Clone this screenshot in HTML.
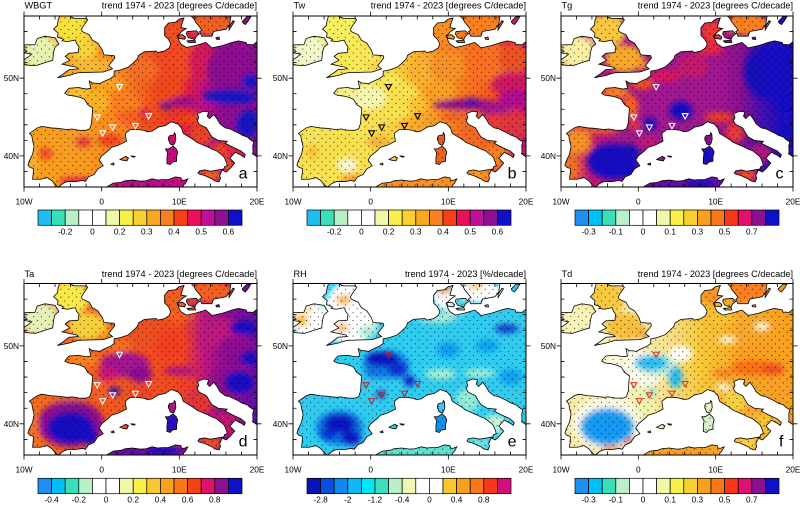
<!DOCTYPE html>
<html><head><meta charset="utf-8">
<style>
html,body{margin:0;padding:0;background:#fff;}
body{width:800px;height:504px;overflow:hidden;}
svg text{font-family:"Liberation Sans",Arial,sans-serif;fill:#000;}
.t{font-size:9.2px}
.l{font-size:8.3px}
.p{font-size:16px}
</style></head><body>
<svg width="800" height="504" viewBox="0 0 800 504" xmlns="http://www.w3.org/2000/svg">
<defs>
<path id="landp" d="M-5.35,-36.14 L-5.6,-36.0 L-6.0,-36.3 L-6.4,-36.8 L-7.0,-37.2 L-7.9,-37.0 L-8.9,-37.0 L-8.8,-37.9 L-8.8,-38.4 L-9.2,-38.5 L-9.5,-38.8 L-9.3,-39.4 L-8.9,-40.2 L-8.7,-41.2 L-8.9,-42.0 L-9.0,-42.6 L-9.3,-42.9 L-8.3,-43.6 L-7.7,-43.8 L-6.5,-43.6 L-5.7,-43.55 L-4.5,-43.4 L-3.8,-43.46 L-2.9,-43.3 L-2.0,-43.3 L-1.55,-43.48 L-1.3,-44.2 L-1.25,-45.0 L-1.15,-46.15 L-1.8,-46.6 L-2.2,-47.27 L-2.7,-47.5 L-3.5,-47.7 L-4.3,-47.8 L-4.75,-48.04 L-4.5,-48.4 L-4.2,-48.7 L-3.0,-48.8 L-2.0,-48.6 L-1.4,-48.7 L-1.6,-49.65 L-1.2,-49.4 L-0.2,-49.3 L0.1,-49.5 L1.08,-49.93 L1.6,-50.3 L1.6,-50.9 L1.85,-50.95 L2.4,-51.05 L3.4,-51.4 L4.0,-51.9 L4.6,-52.5 L4.75,-52.95 L5.5,-53.4 L7.0,-53.5 L7.2,-53.3 L8.1,-53.5 L8.7,-53.9 L8.9,-54.4 L8.6,-55.0 L8.1,-55.5 L8.1,-56.5 L8.6,-57.1 L9.5,-57.2 L10.0,-57.6 L10.6,-57.75 L10.4,-57.2 L10.2,-56.5 L10.9,-56.4 L10.3,-56.0 L9.8,-55.5 L9.9,-55.0 L10.0,-54.7 L10.2,-54.4 L10.9,-53.95 L12.1,-54.2 L13.4,-54.6 L14.2,-53.9 L15.6,-54.2 L16.8,-54.6 L17.6,-54.8 L18.6,-54.6 L18.7,-54.35 L19.5,-54.3 L20.0,-54.7 L20.6,-54.8 L20.6,-39.6 L20.0,-39.87 L19.4,-40.3 L19.49,-40.47 L19.45,-41.31 L19.6,-41.8 L19.1,-42.1 L18.77,-42.42 L18.1,-42.65 L17.5,-43.0 L16.44,-43.5 L15.9,-43.6 L15.23,-44.12 L14.9,-44.7 L14.44,-45.33 L14.2,-45.1 L13.9,-44.8 L13.6,-45.1 L13.77,-45.65 L13.1,-45.75 L12.33,-45.43 L12.5,-44.95 L12.3,-44.5 L12.57,-44.06 L13.5,-43.6 L13.9,-42.9 L14.2,-42.46 L15.0,-42.0 L16.18,-41.88 L15.9,-41.63 L16.87,-41.13 L17.95,-40.64 L18.5,-40.15 L18.36,-39.8 L18.0,-40.06 L17.2,-40.47 L16.5,-39.7 L17.13,-39.08 L16.6,-38.45 L16.05,-37.93 L15.65,-38.1 L15.83,-38.62 L16.16,-38.73 L16.07,-39.13 L15.79,-39.81 L15.52,-40.07 L14.75,-40.68 L14.25,-40.85 L13.55,-41.2 L12.25,-41.75 L11.8,-42.1 L10.5,-42.9 L10.3,-43.55 L9.82,-44.1 L8.93,-44.4 L8.2,-43.9 L7.27,-43.7 L6.5,-43.2 L5.93,-43.1 L5.37,-43.3 L4.6,-43.4 L3.7,-43.4 L3.05,-42.9 L3.1,-42.4 L3.2,-41.9 L2.17,-41.38 L1.25,-41.1 L0.87,-40.7 L0.0,-40.0 L-0.33,-39.47 L0.2,-38.73 L-0.48,-38.35 L-0.98,-37.6 L-1.7,-37.3 L-2.1,-36.72 L-2.45,-36.84 L-3.4,-36.7 L-4.4,-36.7 L-5.0,-36.45 Z
M-5.7,-50.05 L-4.2,-50.35 L-3.4,-50.6 L-3.0,-50.7 L-1.5,-50.75 L0.2,-50.8 L1.4,-51.2 L0.9,-51.6 L1.7,-52.6 L1.6,-52.9 L0.3,-53.0 L0.1,-53.6 L-0.5,-54.5 L-1.2,-54.9 L-1.6,-55.6 L-2.5,-56.0 L-2.6,-56.3 L-2.3,-56.8 L-1.8,-57.5 L-2.0,-57.7 L-3.5,-57.7 L-4.0,-57.9 L-3.7,-58.3 L-5.3,-58.3 L-5.6,-57.5 L-5.7,-56.8 L-6.2,-56.3 L-5.6,-55.8 L-5.7,-55.3 L-4.9,-55.0 L-5.1,-54.8 L-4.4,-54.7 L-3.4,-54.9 L-3.2,-54.4 L-2.9,-54.0 L-3.0,-53.7 L-3.0,-53.3 L-4.2,-53.2 L-4.7,-52.8 L-4.1,-52.3 L-5.1,-51.8 L-4.2,-51.6 L-3.2,-51.4 L-3.0,-51.2 L-4.2,-51.1 L-5.0,-50.5 Z
M-6.2,-53.3 L-6.0,-54.0 L-5.5,-54.4 L-6.0,-55.2 L-7.3,-55.4 L-8.3,-55.1 L-8.6,-54.3 L-9.8,-54.3 L-10.3,-54.0 L-9.6,-53.4 L-10.3,-53.3 L-9.0,-53.1 L-9.5,-52.7 L-10.3,-52.2 L-9.8,-51.7 L-8.5,-51.6 L-7.0,-52.1 L-6.3,-52.3 Z
M9.7,-55.5 L10.4,-55.6 L10.8,-55.3 L10.7,-55.0 L10.0,-55.1 Z
M10.9,-55.7 L11.0,-56.0 L12.2,-56.1 L12.6,-55.7 L12.2,-55.4 L12.0,-55.0 L11.2,-55.2 Z
M11.0,-54.8 L12.0,-54.9 L12.1,-54.6 L11.2,-54.6 Z
M11.5,-58.3 L11.5,-58.0 L11.9,-57.6 L12.1,-57.2 L12.6,-56.6 L12.9,-56.2 L12.6,-56.0 L12.9,-55.4 L14.2,-55.4 L14.4,-56.0 L15.5,-56.2 L16.0,-56.3 L16.5,-56.9 L16.6,-57.8 L16.8,-58.3 Z
M16.4,-56.2 L17.1,-57.3 L16.9,-57.4 L16.4,-56.6 Z
M18.1,-57.3 L18.7,-57.9 L19.2,-57.9 L18.9,-57.4 L18.5,-56.9 L18.2,-57.1 Z
M14.7,-55.2 L15.1,-55.3 L15.2,-55.0 L14.8,-55.0 Z
M8.6,-42.0 L8.6,-42.4 L8.75,-42.6 L9.3,-42.7 L9.35,-43.0 L9.5,-42.8 L9.55,-42.1 L9.4,-41.6 L9.2,-41.37 L8.8,-41.55 L8.7,-41.9 Z
M8.2,-40.9 L8.6,-40.9 L9.2,-41.25 L9.6,-40.9 L9.8,-40.5 L9.65,-39.9 L9.65,-39.3 L9.1,-39.2 L8.85,-38.9 L8.4,-39.0 L8.4,-39.7 L8.5,-40.4 Z
M12.4,-37.8 L12.6,-38.1 L13.3,-38.2 L14.0,-38.03 L15.3,-38.25 L15.6,-38.3 L15.2,-37.5 L15.3,-37.1 L15.1,-36.65 L14.5,-36.8 L14.3,-37.0 L13.2,-37.5 L12.6,-37.65 Z
M2.35,-39.55 L3.1,-39.95 L3.45,-39.75 L3.25,-39.35 L2.7,-39.45 Z
M3.8,-40.0 L4.3,-39.95 L4.2,-39.82 L3.9,-39.9 Z
M1.2,-38.95 L1.55,-39.1 L1.6,-38.85 L1.35,-38.85 Z
M0.3,-35.7 L0.8,-36.1 L1.5,-36.5 L2.5,-36.6 L3.0,-36.8 L4.0,-36.9 L5.0,-36.75 L5.7,-36.8 L6.5,-37.05 L7.2,-36.9 L7.8,-36.95 L8.6,-36.95 L9.5,-37.3 L10.2,-37.2 L10.3,-36.9 L10.6,-36.85 L11.1,-37.05 L10.8,-36.5 L10.5,-36.2 L10.6,-35.7 Z"/>
<clipPath id="lc"><use href="#landp"/></clipPath>
<pattern id="dots" patternUnits="userSpaceOnUse" width="1" height="1"><circle cx="0.25" cy="0.25" r="0.07" fill="#000"/><circle cx="0.75" cy="0.75" r="0.07" fill="#000"/></pattern>
<filter id="bl" filterUnits="userSpaceOnUse" x="-14" y="-62" width="38" height="30"><feGaussianBlur stdDeviation="0.38"/></filter>
<linearGradient id="ga" gradientUnits="userSpaceOnUse" x1="-10" y1="0" x2="20" y2="0">
<stop offset="0" stop-color="#f8a020"/><stop offset="0.27" stop-color="#f89a20"/><stop offset="0.43" stop-color="#f88020"/><stop offset="0.57" stop-color="#f04c1e"/><stop offset="0.70" stop-color="#e02040"/><stop offset="0.78" stop-color="#b8108a"/><stop offset="0.87" stop-color="#8c1090"/><stop offset="1" stop-color="#8c1090"/>
</linearGradient>
<linearGradient id="gb" gradientUnits="userSpaceOnUse" x1="-10" y1="0" x2="20" y2="0">
<stop offset="0" stop-color="#f8e050"/><stop offset="0.27" stop-color="#f8e858"/><stop offset="0.43" stop-color="#f8d040"/><stop offset="0.53" stop-color="#f8b030"/><stop offset="0.63" stop-color="#f89020"/><stop offset="0.77" stop-color="#f87020"/><stop offset="0.87" stop-color="#f05020"/><stop offset="0.95" stop-color="#d01860"/><stop offset="1" stop-color="#c01880"/>
</linearGradient>
<linearGradient id="gc" gradientUnits="userSpaceOnUse" x1="-10" y1="0" x2="20" y2="0">
<stop offset="0" stop-color="#f89020"/><stop offset="0.13" stop-color="#c01878"/><stop offset="0.27" stop-color="#a01890"/><stop offset="0.67" stop-color="#a01890"/><stop offset="0.77" stop-color="#8c1090"/><stop offset="0.87" stop-color="#4010b0"/><stop offset="1" stop-color="#1810c0"/>
</linearGradient>
<linearGradient id="gd" gradientUnits="userSpaceOnUse" x1="-10" y1="0" x2="20" y2="0">
<stop offset="0" stop-color="#f07020"/><stop offset="0.27" stop-color="#f06020"/><stop offset="0.5" stop-color="#f05020"/><stop offset="0.67" stop-color="#f04a20"/><stop offset="0.77" stop-color="#c01880"/><stop offset="0.87" stop-color="#8c1090"/><stop offset="1" stop-color="#6010a8"/>
</linearGradient>
<linearGradient id="gf" gradientUnits="userSpaceOnUse" x1="-10" y1="0" x2="20" y2="0">
<stop offset="0" stop-color="#f8e8a0"/><stop offset="0.27" stop-color="#f8f0c0"/><stop offset="0.47" stop-color="#f8e088"/><stop offset="0.6" stop-color="#f8c838"/><stop offset="0.77" stop-color="#f8a828"/><stop offset="1" stop-color="#f8a020"/>
</linearGradient>
<g id="tri" fill="none" stroke-width="0.14">
<path d="M1.92,-49.18 L2.68,-49.18 L2.3,-48.49 Z"/>
<path d="M-0.96,-45.28 L-0.2,-45.28 L-0.58,-44.59 Z"/>
<path d="M5.67,-45.43 L6.43,-45.43 L6.05,-44.74 Z"/>
<path d="M1.04,-43.98 L1.8,-43.98 L1.42,-43.29 Z"/>
<path d="M-0.25,-43.23 L0.51,-43.23 L0.13,-42.54 Z"/>
<path d="M3.97,-44.18 L4.73,-44.18 L4.35,-43.49 Z"/>
</g>
<g id="fr" stroke="#000" fill="none">
<rect x="0" y="0" width="233" height="171" stroke-width="1"/>
<path stroke-width="0.8" d="M0,171V175.5M77.67,171V175.5M155.33,171V175.5M233,171V175.5M0,0V-4.5M77.67,0V-4.5M155.33,0V-4.5M233,0V-4.5
M15.53,171v-3.5M31.07,171v-3.5M46.6,171v-3.5M62.13,171v-3.5M93.2,171v-3.5M108.73,171v-3.5M124.27,171v-3.5M139.8,171v-3.5M170.87,171v-3.5M186.4,171v-3.5M201.93,171v-3.5M217.47,171v-3.5
M15.53,0v3.5M31.07,0v3.5M46.6,0v3.5M62.13,0v3.5M93.2,0v3.5M108.73,0v3.5M124.27,0v3.5M139.8,0v3.5M170.87,0v3.5M186.4,0v3.5M201.93,0v3.5M217.47,0v3.5
M0,62.18H-4.5M0,139.91H-4.5M233,62.18H237.5M233,139.91H237.5
M0,15.55h3.5M0,31.09h3.5M0,46.64h3.5M0,77.73h3.5M0,93.27h3.5M0,108.82h3.5M0,124.36h3.5M0,155.45h3.5
M233,15.55h-3.5M233,31.09h-3.5M233,46.64h-3.5M233,77.73h-3.5M233,93.27h-3.5M233,108.82h-3.5M233,124.36h-3.5M233,155.45h-3.5"/>
</g>
</defs>

<!-- ===== Panel a: WBGT ===== -->
<svg x="24" y="16" width="233" height="171" viewBox="-10 -58 30 22" preserveAspectRatio="none" overflow="hidden">
<g clip-path="url(#lc)">
<rect x="-11" y="-59" width="32" height="24" fill="url(#ga)"/>
<g filter="url(#bl)">
<ellipse cx="-8" cy="-53.4" rx="2.4" ry="2.2" fill="#e8f2b0"/>
<ellipse cx="-3.8" cy="-56.2" rx="2.5" ry="2.2" fill="#f8e040"/>
<ellipse cx="-2.5" cy="-53.8" rx="2" ry="1.3" fill="#f8d438"/>
<ellipse cx="-1.5" cy="-51.6" rx="3" ry="1" fill="#f8b830"/>
<ellipse cx="-2.8" cy="-48.1" rx="2" ry="0.8" fill="#f8c030"/>
<ellipse cx="-0.6" cy="-47" rx="1.6" ry="1.6" fill="#f8b028"/>
<ellipse cx="1" cy="-49.3" rx="1.8" ry="0.9" fill="#f8a422"/>
<ellipse cx="3" cy="-46.5" rx="2" ry="1.5" fill="#f88020"/>
<ellipse cx="4" cy="-45" rx="2" ry="1" fill="#f86020"/>
<ellipse cx="6" cy="-44.3" rx="1.5" ry="0.8" fill="#f04818"/>
<ellipse cx="5.5" cy="-45.6" rx="0.7" ry="0.6" fill="#e02050"/>
<ellipse cx="5.5" cy="-51" rx="1.8" ry="1.5" fill="#f86a20"/>
<ellipse cx="9.5" cy="-51.5" rx="2.3" ry="2.3" fill="#f04a20"/>
<ellipse cx="8.5" cy="-48.5" rx="2" ry="1.5" fill="#f04a1a"/>
<ellipse cx="10.5" cy="-54" rx="2.5" ry="0.8" fill="#f04a20"/>
<ellipse cx="13" cy="-52" rx="1.8" ry="2.5" fill="#d81858"/>
<ellipse cx="17" cy="-51" rx="3.5" ry="3.5" fill="#8c1090"/>
<ellipse cx="16" cy="-45.5" rx="2.5" ry="1.2" fill="#8c1090"/>
<ellipse cx="13.5" cy="-46.3" rx="1.5" ry="0.7" fill="#b8108a"/>
<ellipse cx="10.5" cy="-47" rx="1.8" ry="0.7" fill="#9a1088"/>
<ellipse cx="16.5" cy="-47.6" rx="3.5" ry="1" fill="#1818c0"/>
<ellipse cx="19.2" cy="-49.6" rx="1.2" ry="1" fill="#1818c0"/>
<ellipse cx="18.8" cy="-44.2" rx="1.5" ry="1.8" fill="#1818c0"/>
<ellipse cx="8.3" cy="-46.5" rx="0.8" ry="0.4" fill="#3010b0"/>
<ellipse cx="11.5" cy="-44.8" rx="2" ry="0.7" fill="#f04418"/>
<ellipse cx="12.8" cy="-42.7" rx="1.5" ry="1.5" fill="#f04020"/>
<ellipse cx="15.5" cy="-40.6" rx="1.6" ry="1.2" fill="#f04028"/>
<ellipse cx="17.2" cy="-40.6" rx="1.3" ry="0.9" fill="#e02848"/>
<ellipse cx="16.2" cy="-38.7" rx="0.9" ry="0.9" fill="#f05020"/>
<ellipse cx="14" cy="-37.5" rx="1.5" ry="0.8" fill="#f06020"/>
<ellipse cx="9.1" cy="-42.2" rx="0.8" ry="0.9" fill="#c81070"/>
<ellipse cx="9" cy="-40" rx="1.2" ry="1.5" fill="#c01080"/>
<ellipse cx="-7.3" cy="-40.3" rx="1" ry="0.8" fill="#f05028"/>
<ellipse cx="-2.3" cy="-41.8" rx="1" ry="0.6" fill="#e83040"/>
<ellipse cx="1" cy="-42" rx="1.5" ry="0.8" fill="#f04020"/>
<ellipse cx="-3" cy="-36.8" rx="2.5" ry="0.5" fill="#e02848"/>
<ellipse cx="-8.8" cy="-39.5" rx="0.6" ry="2" fill="#f8b030"/>
<ellipse cx="9.5" cy="-56" rx="1.5" ry="1.5" fill="#f05020"/>
<ellipse cx="14" cy="-57" rx="3" ry="1.5" fill="#f06020"/>
<ellipse cx="6" cy="-36.5" rx="6" ry="1" fill="#b8108a"/>
</g>
<rect x="-11" y="-59" width="32" height="24" fill="url(#dots)"/>
</g>
<use href="#landp" fill="none" stroke="#000" stroke-width="0.1"/>
<use href="#tri" stroke="#ffffff"/>
</svg>

<!-- ===== Panel b: Tw ===== -->
<svg x="293" y="16" width="233" height="171" viewBox="-10 -58 30 22" preserveAspectRatio="none" overflow="hidden">
<g clip-path="url(#lc)">
<rect x="-11" y="-59" width="32" height="24" fill="url(#gb)"/>
<g filter="url(#bl)">
<ellipse cx="-8" cy="-53.4" rx="2.4" ry="2.2" fill="#f0f8c8"/>
<ellipse cx="-4" cy="-56.2" rx="2.5" ry="2.2" fill="#f8f060"/>
<ellipse cx="-1.8" cy="-52.5" rx="2.5" ry="1.8" fill="#f8e858"/>
<ellipse cx="0.5" cy="-51.6" rx="1" ry="0.5" fill="#f8d040"/>
<ellipse cx="2" cy="-47.2" rx="4.5" ry="2.8" fill="#f8e050"/>
<ellipse cx="-0.5" cy="-47.5" rx="2.5" ry="1.5" fill="#f4f8b0"/>
<ellipse cx="-3" cy="-48.2" rx="1.8" ry="0.7" fill="#f8f090"/>
<ellipse cx="2.5" cy="-49.8" rx="1.5" ry="0.8" fill="#f8e858"/>
<ellipse cx="6" cy="-46.5" rx="1.2" ry="1.2" fill="#f8c030"/>
<ellipse cx="5.5" cy="-44.2" rx="1.5" ry="0.7" fill="#f8a828"/>
<ellipse cx="-4" cy="-40" rx="4.5" ry="3" fill="#f8e050"/>
<ellipse cx="-3" cy="-38.8" rx="1.2" ry="0.8" fill="#f8f8d8"/>
<ellipse cx="-7.5" cy="-40.5" rx="0.8" ry="0.8" fill="#f8c030"/>
<ellipse cx="-2" cy="-37" rx="2" ry="0.5" fill="#f89020"/>
<ellipse cx="1" cy="-41.8" rx="1.5" ry="0.8" fill="#f8b030"/>
<ellipse cx="7" cy="-51" rx="1.8" ry="1.8" fill="#f8b030"/>
<ellipse cx="10" cy="-51.5" rx="2.5" ry="2" fill="#f89020"/>
<ellipse cx="10" cy="-54" rx="2" ry="0.7" fill="#f88020"/>
<ellipse cx="9" cy="-48.5" rx="2" ry="1.2" fill="#f8a020"/>
<ellipse cx="15" cy="-52" rx="3" ry="2.5" fill="#f87020"/>
<ellipse cx="18.5" cy="-52.5" rx="2" ry="2" fill="#f05020"/>
<ellipse cx="18" cy="-49.3" rx="2.5" ry="1.5" fill="#d01860"/>
<ellipse cx="18.5" cy="-47.3" rx="2" ry="1.3" fill="#b01090"/>
<ellipse cx="12.5" cy="-46.6" rx="4.5" ry="0.7" fill="#8c1090"/>
<ellipse cx="13" cy="-47" rx="1" ry="0.5" fill="#5010b0"/>
<ellipse cx="16" cy="-46" rx="2" ry="1" fill="#a01890"/>
<ellipse cx="18.5" cy="-44" rx="2" ry="2" fill="#e03040"/>
<ellipse cx="16" cy="-44.5" rx="1.5" ry="1" fill="#e83838"/>
<ellipse cx="11" cy="-45" rx="2" ry="0.6" fill="#f06020"/>
<ellipse cx="12.8" cy="-42.8" rx="1.5" ry="1.5" fill="#f06828"/>
<ellipse cx="16" cy="-40" rx="2" ry="1.5" fill="#f88020"/>
<ellipse cx="14" cy="-37.5" rx="1.5" ry="0.8" fill="#f89828"/>
<ellipse cx="9.1" cy="-42.2" rx="0.8" ry="0.9" fill="#f05020"/>
<ellipse cx="9" cy="-40" rx="1.2" ry="1.5" fill="#f06020"/>
<ellipse cx="9.5" cy="-56" rx="1.5" ry="1.5" fill="#f89020"/>
<ellipse cx="14" cy="-57" rx="3" ry="1.5" fill="#f88020"/>
<ellipse cx="6" cy="-36.5" rx="6" ry="1" fill="#f89028"/>
</g>
<rect x="-11" y="-59" width="32" height="24" fill="url(#dots)"/>
</g>
<use href="#landp" fill="none" stroke="#000" stroke-width="0.1"/>
<use href="#tri" stroke="#000000"/>
</svg>

<!-- ===== Panel c: Tg ===== -->
<svg x="561" y="16" width="232" height="171" viewBox="-10 -58 30 22" preserveAspectRatio="none" overflow="hidden">
<g clip-path="url(#lc)">
<rect x="-11" y="-59" width="32" height="24" fill="url(#gc)"/>
<g filter="url(#bl)">
<ellipse cx="-8" cy="-53.4" rx="2.4" ry="2.2" fill="#f8f0a0"/>
<ellipse cx="-4" cy="-56.2" rx="2.5" ry="2.2" fill="#f8c840"/>
<ellipse cx="-1.8" cy="-52.5" rx="2.5" ry="1.8" fill="#f8a828"/>
<ellipse cx="0.5" cy="-51.7" rx="1" ry="0.6" fill="#f89020"/>
<ellipse cx="-3" cy="-48.2" rx="1.8" ry="0.8" fill="#f88020"/>
<ellipse cx="-1" cy="-46.3" rx="1" ry="1.6" fill="#f86020"/>
<ellipse cx="0.5" cy="-49.3" rx="1.5" ry="0.8" fill="#f05020"/>
<ellipse cx="3.5" cy="-50.3" rx="2" ry="0.8" fill="#d81860"/>
<ellipse cx="-0.5" cy="-44" rx="1" ry="0.6" fill="#e83040"/>
<ellipse cx="5.5" cy="-45.8" rx="1.5" ry="1.2" fill="#1810c0"/>
<ellipse cx="1.4" cy="-44.1" rx="1" ry="0.8" fill="#1810c0"/>
<ellipse cx="-7.8" cy="-41.8" rx="1.8" ry="1.6" fill="#f89020"/>
<ellipse cx="-8.5" cy="-38.5" rx="0.7" ry="1.5" fill="#f07020"/>
<ellipse cx="-5" cy="-43.3" rx="2.5" ry="0.4" fill="#f07020"/>
<ellipse cx="-3.3" cy="-39.3" rx="3.3" ry="2.3" fill="#1810c0"/>
<ellipse cx="-1" cy="-40.5" rx="1.2" ry="1" fill="#1810c0"/>
<ellipse cx="-1" cy="-38" rx="1.5" ry="1" fill="#1810c0"/>
<ellipse cx="1.2" cy="-41.8" rx="1.3" ry="0.7" fill="#c01878"/>
<ellipse cx="7" cy="-51.5" rx="2" ry="1.5" fill="#c81870"/>
<ellipse cx="9" cy="-53.8" rx="2" ry="0.8" fill="#e82840"/>
<ellipse cx="9.5" cy="-56" rx="1.5" ry="1.5" fill="#e83830"/>
<ellipse cx="14" cy="-57" rx="3" ry="1.5" fill="#f88020"/>
<ellipse cx="17.3" cy="-50.8" rx="3.6" ry="3.6" fill="#1810c0"/>
<ellipse cx="19" cy="-46.5" rx="1.5" ry="1.5" fill="#1810c0"/>
<ellipse cx="10.5" cy="-45" rx="2" ry="0.6" fill="#f04020"/>
<ellipse cx="12.5" cy="-43" rx="1.2" ry="1.3" fill="#e83838"/>
<ellipse cx="15.8" cy="-40.3" rx="1.5" ry="1.3" fill="#b01880"/>
<ellipse cx="14" cy="-37.5" rx="1.5" ry="0.8" fill="#f04828"/>
<ellipse cx="19" cy="-43" rx="1.2" ry="1.5" fill="#1810c0"/>
<ellipse cx="9.1" cy="-42.2" rx="0.8" ry="0.9" fill="#8c1090"/>
<ellipse cx="9" cy="-40" rx="1.2" ry="1.5" fill="#1810c0"/>
<ellipse cx="6" cy="-36.5" rx="6" ry="1" fill="#6010a8"/>
<ellipse cx="8" cy="-36.4" rx="2" ry="0.6" fill="#1810c0"/>
</g>
<rect x="-11" y="-59" width="32" height="24" fill="url(#dots)"/>
</g>
<use href="#landp" fill="none" stroke="#000" stroke-width="0.1"/>
<use href="#tri" stroke="#ffffff"/>
</svg>

<!-- ===== Panel d: Ta ===== -->
<svg x="24" y="283.5" width="233" height="171.5" viewBox="-10 -58 30 22" preserveAspectRatio="none" overflow="hidden">
<g clip-path="url(#lc)">
<rect x="-11" y="-59" width="32" height="24" fill="url(#gd)"/>
<g filter="url(#bl)">
<ellipse cx="-8" cy="-53.4" rx="2.4" ry="2.2" fill="#e4f2b8"/>
<ellipse cx="-4" cy="-56.2" rx="2.5" ry="2.2" fill="#f8e848"/>
<ellipse cx="-1.8" cy="-52.5" rx="2.5" ry="1.8" fill="#f8d038"/>
<ellipse cx="0.5" cy="-51.6" rx="1" ry="0.6" fill="#f8a828"/>
<ellipse cx="-2.5" cy="-48.2" rx="2" ry="1" fill="#f88020"/>
<ellipse cx="2" cy="-50" rx="2" ry="0.8" fill="#f87020"/>
<ellipse cx="3" cy="-47.6" rx="3.2" ry="1.6" fill="#a01890"/>
<ellipse cx="0.8" cy="-46.4" rx="1.3" ry="0.9" fill="#c81878"/>
<ellipse cx="5" cy="-46.3" rx="1.5" ry="1" fill="#8c1090"/>
<ellipse cx="1.6" cy="-44.2" rx="0.8" ry="0.5" fill="#1810c0"/>
<ellipse cx="5" cy="-44.2" rx="1.5" ry="0.6" fill="#f04020"/>
<ellipse cx="-0.5" cy="-44.5" rx="1" ry="1" fill="#f06020"/>
<ellipse cx="-4" cy="-40" rx="4.3" ry="3" fill="#8c1090"/>
<ellipse cx="-4" cy="-39.5" rx="3" ry="2.1" fill="#1810c0"/>
<ellipse cx="-1.5" cy="-38.3" rx="1.2" ry="1" fill="#1810c0"/>
<ellipse cx="-8.7" cy="-39.5" rx="0.6" ry="2" fill="#f87020"/>
<ellipse cx="-5" cy="-43.3" rx="2.5" ry="0.4" fill="#f06020"/>
<ellipse cx="10" cy="-54" rx="2" ry="0.8" fill="#f86020"/>
<ellipse cx="9" cy="-50" rx="2" ry="2" fill="#f04020"/>
<ellipse cx="15.5" cy="-51.5" rx="3" ry="2" fill="#c01880"/>
<ellipse cx="18.2" cy="-52.3" rx="1.8" ry="0.9" fill="#1810c0"/>
<ellipse cx="17.5" cy="-50" rx="2.5" ry="1.2" fill="#8c1090"/>
<ellipse cx="17" cy="-45.5" rx="3" ry="2.2" fill="#8c1090"/>
<ellipse cx="17.8" cy="-45.3" rx="2" ry="1.5" fill="#1810c0"/>
<ellipse cx="19" cy="-48.5" rx="1" ry="1" fill="#1810c0"/>
<ellipse cx="10" cy="-46.8" rx="2" ry="0.6" fill="#b01880"/>
<ellipse cx="11" cy="-45" rx="2" ry="0.6" fill="#f04020"/>
<ellipse cx="12.8" cy="-42.8" rx="1.5" ry="1.5" fill="#e83030"/>
<ellipse cx="16" cy="-40" rx="2" ry="1.5" fill="#c01870"/>
<ellipse cx="14" cy="-37.5" rx="1.5" ry="0.8" fill="#f05020"/>
<ellipse cx="9.1" cy="-42.2" rx="0.8" ry="0.9" fill="#a01890"/>
<ellipse cx="9" cy="-40" rx="1.2" ry="1.5" fill="#2810c0"/>
<ellipse cx="9.5" cy="-56" rx="1.5" ry="1.5" fill="#f06020"/>
<ellipse cx="14" cy="-57" rx="3" ry="1.5" fill="#f06020"/>
<ellipse cx="6" cy="-36.5" rx="6" ry="1" fill="#6010a8"/>
<ellipse cx="8" cy="-36.5" rx="2" ry="0.6" fill="#1810c0"/>
</g>
<rect x="-11" y="-59" width="32" height="24" fill="url(#dots)"/>
</g>
<use href="#landp" fill="none" stroke="#000" stroke-width="0.1"/>
<use href="#tri" stroke="#ffffff"/>
</svg>

<!-- ===== Panel e: RH ===== -->
<svg x="293" y="283.5" width="233" height="171.5" viewBox="-10 -58 30 22" preserveAspectRatio="none" overflow="hidden">
<g clip-path="url(#lc)">
<rect x="-11" y="-59" width="32" height="24" fill="#30ccf0"/>
<g filter="url(#bl)">
<ellipse cx="-8" cy="-53.4" rx="2.6" ry="2.4" fill="#ffffff"/>
<ellipse cx="-9" cy="-53.3" rx="1" ry="0.8" fill="#f8c030"/>
<ellipse cx="-8" cy="-54.7" rx="0.6" ry="0.4" fill="#f8d040"/>
<ellipse cx="-2.5" cy="-54.2" rx="3.5" ry="4.2" fill="#ffffff"/>
<ellipse cx="-3.5" cy="-55.9" rx="1" ry="0.6" fill="#f8b030"/>
<ellipse cx="-3.7" cy="-52.3" rx="0.8" ry="0.5" fill="#f8a830"/>
<ellipse cx="-0.3" cy="-51.9" rx="1.3" ry="0.7" fill="#a8ecd8"/>
<ellipse cx="9.5" cy="-56.2" rx="1.5" ry="1.5" fill="#ffffff"/>
<ellipse cx="9.4" cy="-57.2" rx="1" ry="0.5" fill="#f89020"/>
<ellipse cx="14" cy="-57" rx="3" ry="1.5" fill="#ffffff"/>
<ellipse cx="13.5" cy="-57.7" rx="1" ry="0.4" fill="#f8c030"/>
<ellipse cx="8.5" cy="-53.6" rx="2.5" ry="0.6" fill="#b0f0d8"/>
<ellipse cx="11" cy="-54.5" rx="1.5" ry="0.5" fill="#b0f0d8"/>
<ellipse cx="2" cy="-47.6" rx="3" ry="1.8" fill="#1080e8"/>
<ellipse cx="1.5" cy="-48.3" rx="2.2" ry="1" fill="#0818c0"/>
<ellipse cx="3.5" cy="-47" rx="1.3" ry="1" fill="#0830d0"/>
<ellipse cx="0.5" cy="-46.5" rx="1.2" ry="0.6" fill="#1070e0"/>
<ellipse cx="5" cy="-45.5" rx="0.7" ry="0.7" fill="#0818c0"/>
<ellipse cx="1.3" cy="-43.8" rx="0.6" ry="0.4" fill="#0818c0"/>
<ellipse cx="-4" cy="-39.5" rx="3" ry="2.2" fill="#1070e0"/>
<ellipse cx="-4" cy="-40" rx="2" ry="1.2" fill="#0818c0"/>
<ellipse cx="-2.5" cy="-38.2" rx="1.3" ry="0.9" fill="#0818c0"/>
<ellipse cx="-5.5" cy="-38.6" rx="1" ry="0.6" fill="#0030d0"/>
<ellipse cx="17.5" cy="-52.2" rx="1.5" ry="0.6" fill="#0840d0"/>
<ellipse cx="15" cy="-50" rx="1.5" ry="0.8" fill="#10a0f0"/>
<ellipse cx="10" cy="-49.5" rx="1.5" ry="1" fill="#10a0f0"/>
<ellipse cx="18" cy="-46" rx="1.5" ry="1" fill="#10a0f0"/>
<ellipse cx="9" cy="-46.4" rx="2" ry="0.6" fill="#b0f0d0"/>
<ellipse cx="14" cy="-46.5" rx="2" ry="0.5" fill="#b0f0d0"/>
<ellipse cx="12.5" cy="-43" rx="1.5" ry="1.6" fill="#90ead8"/>
<ellipse cx="16" cy="-40" rx="1.5" ry="1.2" fill="#c8f4d8"/>
<ellipse cx="14" cy="-37.5" rx="1.5" ry="0.8" fill="#70e0e0"/>
<ellipse cx="9" cy="-40" rx="1.2" ry="1.5" fill="#1090f0"/>
<ellipse cx="9.1" cy="-42.2" rx="0.8" ry="0.9" fill="#40c8f0"/>
<ellipse cx="6" cy="-36.5" rx="6" ry="1" fill="#60e0d0"/>
</g>
<rect x="-11" y="-59" width="32" height="24" fill="url(#dots)"/>
</g>
<use href="#landp" fill="none" stroke="#000" stroke-width="0.1"/>
<use href="#tri" stroke="#b02838"/>
</svg>

<!-- ===== Panel f: Td ===== -->
<svg x="561" y="283.5" width="232" height="171.5" viewBox="-10 -58 30 22" preserveAspectRatio="none" overflow="hidden">
<g clip-path="url(#lc)">
<rect x="-11" y="-59" width="32" height="24" fill="url(#gf)"/>
<g filter="url(#bl)">
<ellipse cx="-8" cy="-53.4" rx="2.4" ry="2.2" fill="#f8f4b8"/>
<ellipse cx="-4" cy="-56.2" rx="2.5" ry="2.2" fill="#f8c840"/>
<ellipse cx="-1.8" cy="-52.5" rx="2.5" ry="1.8" fill="#f8c038"/>
<ellipse cx="0.5" cy="-51.6" rx="1" ry="0.6" fill="#f8a830"/>
<ellipse cx="0" cy="-47" rx="3.5" ry="2.5" fill="#fbfbe8"/>
<ellipse cx="-3" cy="-48.2" rx="2" ry="0.7" fill="#fafae0"/>
<ellipse cx="2.5" cy="-47.5" rx="2.5" ry="1.5" fill="#c8f0d0"/>
<ellipse cx="1.7" cy="-47.8" rx="2.2" ry="1" fill="#28bcf0"/>
<ellipse cx="4.8" cy="-46" rx="0.9" ry="1.4" fill="#28bcf0"/>
<ellipse cx="1.5" cy="-44.1" rx="0.8" ry="0.5" fill="#80e0d0"/>
<ellipse cx="5.5" cy="-49" rx="1.5" ry="1" fill="#ffffff"/>
<ellipse cx="0" cy="-44.2" rx="1.2" ry="0.8" fill="#f0f4b0"/>
<ellipse cx="-4" cy="-40" rx="4.6" ry="3.3" fill="#fafae8"/>
<ellipse cx="-4" cy="-39.6" rx="3.5" ry="2.4" fill="#20a4f0"/>
<ellipse cx="-4" cy="-39.6" rx="2.4" ry="1.6" fill="#1898f0"/>
<ellipse cx="-1" cy="-37.6" rx="0.8" ry="0.6" fill="#f88020"/>
<ellipse cx="-3.5" cy="-36.8" rx="1.5" ry="0.4" fill="#f8a030"/>
<ellipse cx="1" cy="-42" rx="1.5" ry="0.8" fill="#f0f4b0"/>
<ellipse cx="10" cy="-53.5" rx="2.5" ry="1" fill="#f8c030"/>
<ellipse cx="11.5" cy="-50.8" rx="1.2" ry="0.4" fill="#ffffff"/>
<ellipse cx="16" cy="-52.5" rx="1" ry="0.5" fill="#ffffff"/>
<ellipse cx="16" cy="-48" rx="4" ry="2.5" fill="#f8a020"/>
<ellipse cx="15" cy="-47.2" rx="3" ry="1" fill="#f87018"/>
<ellipse cx="17.5" cy="-47" rx="1.5" ry="0.8" fill="#f05020"/>
<ellipse cx="11" cy="-46.5" rx="1.5" ry="0.5" fill="#f88020"/>
<ellipse cx="12.5" cy="-43" rx="1.5" ry="1.5" fill="#f8d040"/>
<ellipse cx="11" cy="-44.7" rx="1" ry="0.4" fill="#ffffff"/>
<ellipse cx="16" cy="-40" rx="2" ry="1.5" fill="#f8c030"/>
<ellipse cx="14" cy="-37.6" rx="1.5" ry="0.8" fill="#f8d040"/>
<ellipse cx="18" cy="-44" rx="2" ry="2" fill="#f8a028"/>
<ellipse cx="9" cy="-40" rx="1.2" ry="1.5" fill="#d8f0d0"/>
<ellipse cx="9.1" cy="-42.2" rx="0.8" ry="0.9" fill="#e8f4d0"/>
<ellipse cx="9.5" cy="-56.5" rx="1.5" ry="1.2" fill="#f89020"/>
<ellipse cx="14" cy="-57" rx="3" ry="1.5" fill="#f88020"/>
<ellipse cx="6" cy="-36.5" rx="6" ry="1" fill="#f8a028"/>
</g>
<rect x="-11" y="-59" width="32" height="24" fill="url(#dots)"/>
</g>
<use href="#landp" fill="none" stroke="#000" stroke-width="0.1"/>
<use href="#tri" stroke="#e03820"/>
</svg>

<!-- frames & ticks -->
<use href="#fr" transform="translate(24,16)"/>
<use href="#fr" transform="translate(293,16)"/>
<use href="#fr" transform="translate(561,16) scale(0.9957,1)"/>
<use href="#fr" transform="translate(24,283.5) scale(1,1.003)"/>
<use href="#fr" transform="translate(293,283.5) scale(1,1.003)"/>
<use href="#fr" transform="translate(561,283.5) scale(0.9957,1.003)"/>

<!-- titles -->
<text class="t" x="24.5" y="8.6">WBGT</text>
<text class="t" x="257" y="8.6" text-anchor="end">trend 1974 - 2023 [degrees C/decade]</text>
<text class="t" x="293.5" y="8.6">Tw</text>
<text class="t" x="526" y="8.6" text-anchor="end">trend 1974 - 2023 [degrees C/decade]</text>
<text class="t" x="561.5" y="8.6">Tg</text>
<text class="t" x="793" y="8.6" text-anchor="end">trend 1974 - 2023 [degrees C/decade]</text>
<text class="t" x="24.5" y="276.8">Ta</text>
<text class="t" x="257" y="276.8" text-anchor="end">trend 1974 - 2023 [degrees C/decade]</text>
<text class="t" x="293.5" y="276.8">RH</text>
<text class="t" x="526" y="276.8" text-anchor="end">trend 1974 - 2023 [%/decade]</text>
<text class="t" x="561.5" y="276.8">Td</text>
<text class="t" x="793" y="276.8" text-anchor="end">trend 1974 - 2023 [degrees C/decade]</text>

<!-- panel letters -->
<text class="p" x="247.5" y="178.3" text-anchor="end">a</text>
<text class="p" x="516.5" y="178.3" text-anchor="end">b</text>
<text class="p" x="783.5" y="178.3" text-anchor="end">c</text>
<text class="p" x="247.5" y="446.5" text-anchor="end">d</text>
<text class="p" x="516.5" y="446.5" text-anchor="end">e</text>
<text class="p" x="783.5" y="446.5" text-anchor="end">f</text>

<!-- lon labels -->
<g class="l" text-anchor="middle">
<text x="24" y="204.5">10W</text><text x="101.7" y="204.5">0</text><text x="179.3" y="204.5">10E</text><text x="257" y="204.5">20E</text>
<text x="293" y="204.5">10W</text><text x="370.7" y="204.5">0</text><text x="448.3" y="204.5">10E</text><text x="526" y="204.5">20E</text>
<text x="561" y="204.5">10W</text><text x="638.3" y="204.5">0</text><text x="715.7" y="204.5">10E</text><text x="793" y="204.5">20E</text>
<text x="24" y="472.5">10W</text><text x="101.7" y="472.5">0</text><text x="179.3" y="472.5">10E</text><text x="257" y="472.5">20E</text>
<text x="293" y="472.5">10W</text><text x="370.7" y="472.5">0</text><text x="448.3" y="472.5">10E</text><text x="526" y="472.5">20E</text>
<text x="561" y="472.5">10W</text><text x="638.3" y="472.5">0</text><text x="715.7" y="472.5">10E</text><text x="793" y="472.5">20E</text>
</g>
<!-- lat labels -->
<g class="l" text-anchor="end">
<text x="19" y="81.2">50N</text><text x="19" y="158.9">40N</text>
<text x="288" y="81.2">50N</text><text x="288" y="158.9">40N</text>
<text x="556" y="81.2">50N</text><text x="556" y="158.9">40N</text>
<text x="19" y="348.9">50N</text><text x="19" y="426.8">40N</text>
<text x="288" y="348.9">50N</text><text x="288" y="426.8">40N</text>
<text x="556" y="348.9">50N</text><text x="556" y="426.8">40N</text>
</g>

<!-- colorbars -->
<g stroke="#000" stroke-width="0.7">
<g transform="translate(38,210)">
<rect x="0" width="13.6" height="15.3" fill="#1ebff0"/><rect x="13.6" width="13.6" height="15.3" fill="#38e0b8"/><rect x="27.2" width="13.6" height="15.3" fill="#b8f0c8"/><rect x="40.8" width="13.6" height="15.3" fill="#ffffff"/><rect x="54.4" width="13.6" height="15.3" fill="#ffffff"/><rect x="68" width="13.6" height="15.3" fill="#f0f8a8"/><rect x="81.6" width="13.6" height="15.3" fill="#f8f048"/><rect x="95.2" width="13.6" height="15.3" fill="#f8d030"/><rect x="108.8" width="13.6" height="15.3" fill="#f8a820"/><rect x="122.4" width="13.6" height="15.3" fill="#f88020"/><rect x="136" width="13.6" height="15.3" fill="#f84018"/><rect x="149.6" width="13.6" height="15.3" fill="#e81058"/><rect x="163.2" width="13.6" height="15.3" fill="#c0109a"/><rect x="176.8" width="13.6" height="15.3" fill="#8c1090"/><rect x="190.4" width="13.6" height="15.3" fill="#1010c8"/>
</g>
<g transform="translate(307,210)">
<rect x="0" width="13.6" height="15.3" fill="#1ebff0"/><rect x="13.6" width="13.6" height="15.3" fill="#38e0b8"/><rect x="27.2" width="13.6" height="15.3" fill="#b8f0c8"/><rect x="40.8" width="13.6" height="15.3" fill="#ffffff"/><rect x="54.4" width="13.6" height="15.3" fill="#ffffff"/><rect x="68" width="13.6" height="15.3" fill="#f0f8a8"/><rect x="81.6" width="13.6" height="15.3" fill="#f8f048"/><rect x="95.2" width="13.6" height="15.3" fill="#f8d030"/><rect x="108.8" width="13.6" height="15.3" fill="#f8a820"/><rect x="122.4" width="13.6" height="15.3" fill="#f88020"/><rect x="136" width="13.6" height="15.3" fill="#f84018"/><rect x="149.6" width="13.6" height="15.3" fill="#e81058"/><rect x="163.2" width="13.6" height="15.3" fill="#c0109a"/><rect x="176.8" width="13.6" height="15.3" fill="#8c1090"/><rect x="190.4" width="13.6" height="15.3" fill="#1010c8"/>
</g>
<g transform="translate(575,210)">
<rect x="0" width="13.6" height="15.3" fill="#1e90f0"/><rect x="13.6" width="13.6" height="15.3" fill="#00c0f8"/><rect x="27.2" width="13.6" height="15.3" fill="#38e0b8"/><rect x="40.8" width="13.6" height="15.3" fill="#b8f0c8"/><rect x="54.4" width="13.6" height="15.3" fill="#ffffff"/><rect x="68" width="13.6" height="15.3" fill="#ffffff"/><rect x="81.6" width="13.6" height="15.3" fill="#f0f8a8"/><rect x="95.2" width="13.6" height="15.3" fill="#f8f048"/><rect x="108.8" width="13.6" height="15.3" fill="#f8d030"/><rect x="122.4" width="13.6" height="15.3" fill="#f8a020"/><rect x="136" width="13.6" height="15.3" fill="#f87818"/><rect x="149.6" width="13.6" height="15.3" fill="#f83818"/><rect x="163.2" width="13.6" height="15.3" fill="#e01070"/><rect x="176.8" width="13.6" height="15.3" fill="#8c1090"/><rect x="190.4" width="13.6" height="15.3" fill="#1010c8"/>
</g>
<g transform="translate(38,478.3)">
<rect x="0" width="13.6" height="15.4" fill="#1e90f0"/><rect x="13.6" width="13.6" height="15.4" fill="#00c0f8"/><rect x="27.2" width="13.6" height="15.4" fill="#38e0b8"/><rect x="40.8" width="13.6" height="15.4" fill="#b8f0c8"/><rect x="54.4" width="13.6" height="15.4" fill="#ffffff"/><rect x="68" width="13.6" height="15.4" fill="#ffffff"/><rect x="81.6" width="13.6" height="15.4" fill="#f0f8a8"/><rect x="95.2" width="13.6" height="15.4" fill="#f8f048"/><rect x="108.8" width="13.6" height="15.4" fill="#f8c830"/><rect x="122.4" width="13.6" height="15.4" fill="#f8a020"/><rect x="136" width="13.6" height="15.4" fill="#f87818"/><rect x="149.6" width="13.6" height="15.4" fill="#f84018"/><rect x="163.2" width="13.6" height="15.4" fill="#e01070"/><rect x="176.8" width="13.6" height="15.4" fill="#8c1090"/><rect x="190.4" width="13.6" height="15.4" fill="#1010c8"/>
</g>
<g transform="translate(307,478.3)">
<rect x="0" width="13.6" height="15.4" fill="#0a14b4"/><rect x="13.6" width="13.6" height="15.4" fill="#0a50e0"/><rect x="27.2" width="13.6" height="15.4" fill="#1088f0"/><rect x="40.8" width="13.6" height="15.4" fill="#10b8f8"/><rect x="54.4" width="13.6" height="15.4" fill="#00e8f8"/><rect x="68" width="13.6" height="15.4" fill="#38e0c0"/><rect x="81.6" width="13.6" height="15.4" fill="#b8f0c8"/><rect x="95.2" width="13.6" height="15.4" fill="#f0f8b0"/><rect x="108.8" width="13.6" height="15.4" fill="#ffffff"/><rect x="122.4" width="13.6" height="15.4" fill="#ffffff"/><rect x="136" width="13.6" height="15.4" fill="#f8c828"/><rect x="149.6" width="13.6" height="15.4" fill="#f8a020"/><rect x="163.2" width="13.6" height="15.4" fill="#f87818"/><rect x="176.8" width="13.6" height="15.4" fill="#f83818"/><rect x="190.4" width="13.6" height="15.4" fill="#d0107a"/>
</g>
<g transform="translate(575,478.3)">
<rect x="0" width="13.6" height="15.4" fill="#1e90f0"/><rect x="13.6" width="13.6" height="15.4" fill="#00c0f8"/><rect x="27.2" width="13.6" height="15.4" fill="#38e0b8"/><rect x="40.8" width="13.6" height="15.4" fill="#b8f0c8"/><rect x="54.4" width="13.6" height="15.4" fill="#ffffff"/><rect x="68" width="13.6" height="15.4" fill="#ffffff"/><rect x="81.6" width="13.6" height="15.4" fill="#f0f8a8"/><rect x="95.2" width="13.6" height="15.4" fill="#f8f048"/><rect x="108.8" width="13.6" height="15.4" fill="#f8d030"/><rect x="122.4" width="13.6" height="15.4" fill="#f8a020"/><rect x="136" width="13.6" height="15.4" fill="#f87818"/><rect x="149.6" width="13.6" height="15.4" fill="#f83818"/><rect x="163.2" width="13.6" height="15.4" fill="#e01070"/><rect x="176.8" width="13.6" height="15.4" fill="#8c1090"/><rect x="190.4" width="13.6" height="15.4" fill="#1010c8"/>
</g>
</g>

<!-- colorbar labels -->
<g class="l" text-anchor="middle">
<text x="65.2" y="234.5">-0.2</text><text x="92.4" y="234.5">0</text><text x="119.6" y="234.5">0.2</text><text x="146.8" y="234.5">0.3</text><text x="174" y="234.5">0.4</text><text x="201.2" y="234.5">0.5</text><text x="228.4" y="234.5">0.6</text>
<text x="334.2" y="234.5">-0.2</text><text x="361.4" y="234.5">0</text><text x="388.6" y="234.5">0.2</text><text x="415.8" y="234.5">0.3</text><text x="443" y="234.5">0.4</text><text x="470.2" y="234.5">0.5</text><text x="497.4" y="234.5">0.6</text>
<text x="588.6" y="234.5">-0.3</text><text x="615.8" y="234.5">-0.1</text><text x="643" y="234.5">0</text><text x="670.2" y="234.5">0.1</text><text x="697.4" y="234.5">0.3</text><text x="724.6" y="234.5">0.5</text><text x="751.8" y="234.5">0.7</text>
<text x="51.6" y="502.5">-0.4</text><text x="78.8" y="502.5">-0.2</text><text x="106" y="502.5">0</text><text x="133.2" y="502.5">0.2</text><text x="160.4" y="502.5">0.4</text><text x="187.6" y="502.5">0.6</text><text x="214.8" y="502.5">0.8</text>
<text x="320.6" y="502.5">-2.8</text><text x="347.8" y="502.5">-2</text><text x="375" y="502.5">-1.2</text><text x="402.2" y="502.5">-0.4</text><text x="429.4" y="502.5">0</text><text x="456.6" y="502.5">0.4</text><text x="483.8" y="502.5">0.8</text>
<text x="588.6" y="502.5">-0.3</text><text x="615.8" y="502.5">-0.1</text><text x="643" y="502.5">0</text><text x="670.2" y="502.5">0.1</text><text x="697.4" y="502.5">0.3</text><text x="724.6" y="502.5">0.5</text><text x="751.8" y="502.5">0.7</text>
</g>
</svg>
</body></html>
